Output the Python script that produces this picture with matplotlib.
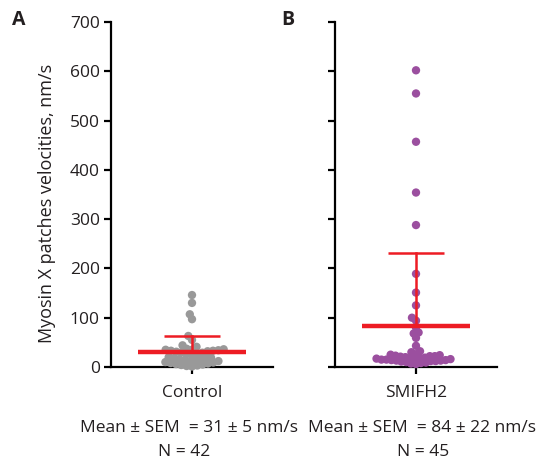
import numpy as np
import matplotlib
matplotlib.use("Agg")
import matplotlib.pyplot as plt

plt.rcParams['font.family'] = ['Open Sans', 'DejaVu Sans']

# Myosin X patch velocities (nm/s)
control = [1, 2, 3, 4, 5, 6, 7, 8, 9, 10, 11, 12, 13, 14, 15, 16, 17, 18, 19, 20,
           24, 26,
           28, 29, 30, 31, 32, 33, 33, 34, 35, 35, 36, 37,
           41, 44, 55, 63, 97, 107, 130, 146]
smifh2 = [6, 7, 8, 9, 10, 11, 12, 12, 13, 13, 14, 14, 15, 15, 16, 16, 17, 17,
          18, 19, 20, 21, 22, 23, 24, 25,
          26, 22, 30, 32, 43, 59, 68, 70, 80, 94, 100, 125, 151, 189,
          288, 354, 457, 555, 602]

groups = ["Control", "SMIFH2"]
means = [31, 84]
sems = [5, 22]
ns = [42, 45]
panel_letters = ["A", "B"]
colors = ["#999999", "#9b4f9f"]
red = "#ed1c24"

W, H = 544, 469
fig = plt.figure(figsize=(W / 100, H / 100), dpi=100)


def fx(px):
    return px / W


def fy(py):
    return 1 - py / H


def swarm_offsets(ax, values, spacing_px):
    """Beeswarm x-offsets (data units) computed in display space."""
    vals = np.asarray(values, float)
    order = np.argsort(vals, kind="stable")
    ypix = ax.transData.transform(np.column_stack([np.zeros_like(vals), vals]))[:, 1]
    px_per_unit = ax.transData.transform((1, 0))[0] - ax.transData.transform((0, 0))[0]
    placed = []
    xs = np.zeros_like(vals)
    for i in order:
        y = ypix[i]
        cands = [0.0]
        for (px, py) in placed:
            dy = y - py
            if abs(dy) < spacing_px:
                dx = np.sqrt(spacing_px ** 2 - dy ** 2)
                cands += [px + dx, px - dx]
        cands.sort(key=lambda c: (abs(c), c))
        for c in cands:
            ok = all((c - px) ** 2 + (y - py) ** 2 >= spacing_px ** 2 - 1e-6
                     for (px, py) in placed)
            if ok:
                placed.append((c, y))
                xs[i] = c / px_per_unit
                break
    return xs


axes_left = [111, 335]
data_sets = [control, smifh2]
spacings = [5.4, 5.0]

for k in range(2):
    ax = fig.add_axes([fx(axes_left[k]), fy(367), 162 / W, 345 / H])
    ax.set_xlim(-1, 1)
    ax.set_ylim(0, 700)
    ax.set_yticks(np.arange(0, 701, 100))
    ax.set_xticks([0])
    ax.set_xticklabels([groups[k]])
    for s in ["top", "right"]:
        ax.spines[s].set_visible(False)
    for s in ["left", "bottom"]:
        ax.spines[s].set_linewidth(1.6)
        ax.spines[s].set_color("black")
    ax.tick_params(axis="both", length=5, width=1.6, color="black",
                   labelsize=12.5, labelcolor="#231f20", pad=3)
    ax.tick_params(axis="x", labelsize=12.5, pad=8)
    if k == 1:
        ax.set_yticklabels([])

    vals = data_sets[k]
    xoff = swarm_offsets(ax, vals, spacings[k])
    ax.scatter(xoff, vals, s=36, color=colors[k], edgecolors="none",
               zorder=3, clip_on=False)

    m = means[k]
    sd = sems[k] * np.sqrt(ns[k])
    ax.plot([-0.667, 0.667], [m, m], color=red, lw=3.2, zorder=4,
            solid_capstyle="butt")
    ax.plot([0, 0], [m, m + sd], color=red, lw=1.8, zorder=4)
    ax.plot([-0.345, 0.345], [m + sd, m + sd], color=red, lw=1.8, zorder=4,
            solid_capstyle="butt")

    cx = axes_left[k] + 81
    fig.text(fx(cx - 3 + 9 * k), fy(428),
             f"Mean \u00b1 SEM  = {means[k]} \u00b1 {sems[k]} nm/s",
             ha="center", va="center", fontsize=12.5, color="#231f20")
    fig.text(fx(cx - 8 + 15 * k), fy(452), f"N = {ns[k]}",
             ha="center", va="center", fontsize=12.5, color="#231f20")

fig.text(fx(19), fy(20), panel_letters[0], ha="center", va="center",
         fontsize=14, fontweight="bold", color="#231f20")
fig.text(fx(288), fy(20), panel_letters[1], ha="center", va="center",
         fontsize=14, fontweight="bold", color="#231f20")
fig.text(fx(47), fy(203), "Myosin X patches velocities, nm/s", rotation=90,
         ha="center", va="center", fontsize=13, color="#231f20")

fig.savefig("out.png", dpi=100)
